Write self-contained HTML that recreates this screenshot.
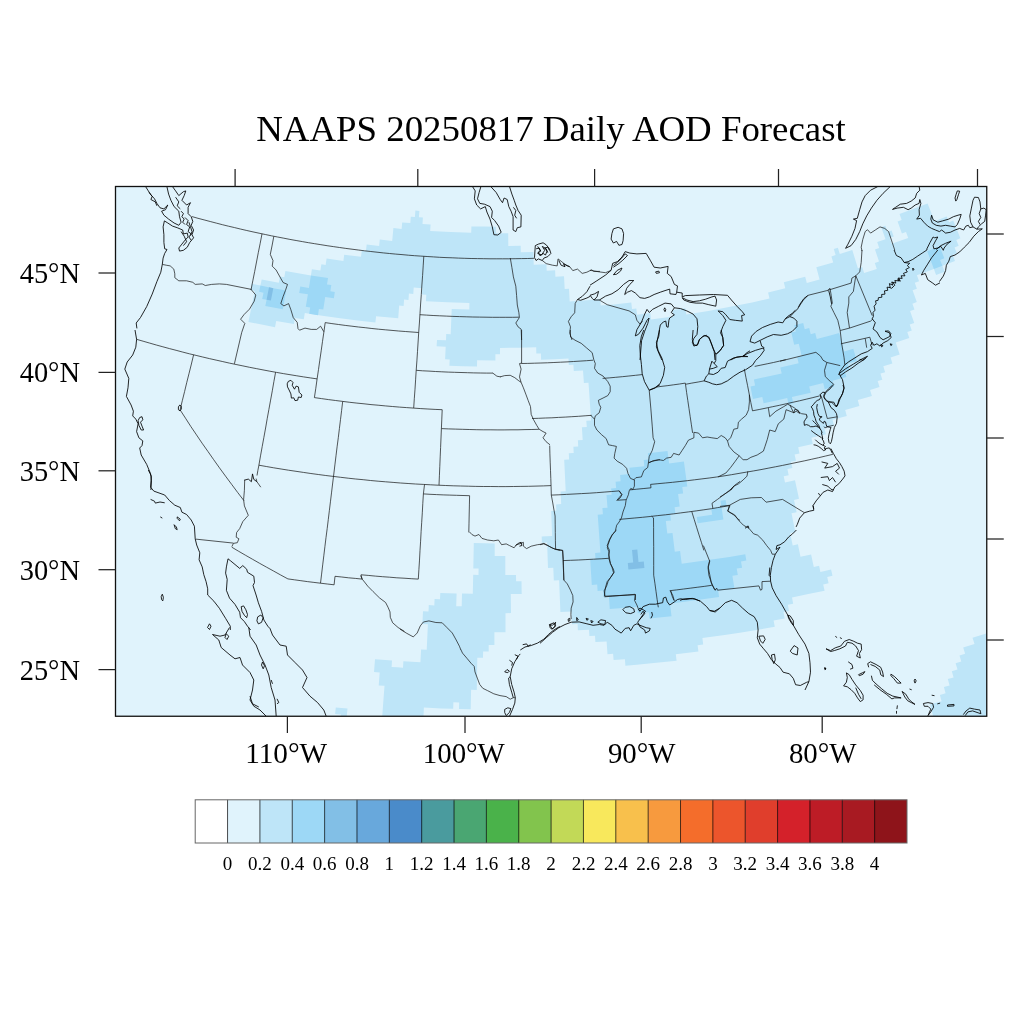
<!DOCTYPE html>
<html><head><meta charset="utf-8"><title>NAAPS 20250817 Daily AOD Forecast</title>
<style>html,body{margin:0;padding:0;background:#fff}svg{display:block}text{font-family:"Liberation Serif","Times New Roman",serif;fill:#000}</style></head><body>
<svg width="1024" height="1024" viewBox="0 0 1024 1024">
<rect width="1024" height="1024" fill="#fff"/>
<defs><clipPath id="mc"><rect x="115.50" y="186.50" width="871.25" height="529.75"/></clipPath></defs>
<g clip-path="url(#mc)">
<rect x="115.50" y="186.50" width="871.25" height="529.75" fill="#e0f3fc"/>
<path d="M343.4,261.0 326.6,258.6 325.6,264.9 321.4,264.2 320.4,270.5 311.9,269.2 310.9,275.5 298.2,273.3 285.4,271.0 284.3,277.3 280.0,276.5 278.8,282.7 261.7,279.4 260.4,285.6 251.8,283.8 250.5,290.0 254.8,290.9 248.4,321.9 261.7,324.6 275.0,327.2 276.2,320.9 293.9,324.1 294.9,317.9 303.8,319.3 304.8,313.1 322.4,315.8 340.1,318.3 357.7,320.5 375.4,322.5 376.1,316.2 398.2,318.2 399.2,305.6 403.6,305.9 404.1,299.6 408.5,300.0 408.9,293.6 413.3,293.9 413.7,287.6 422.3,288.2 421.9,294.5 426.3,294.8 425.9,301.2 447.6,302.3 469.4,303.1 469.3,309.4 451.7,308.9 450.7,334.2 446.2,334.0 446.0,340.3 437.0,339.9 436.6,346.2 445.7,346.7 445.1,359.3 449.7,359.5 449.4,365.8 463.2,366.3 477.0,366.6 477.1,360.3 495.4,360.5 495.4,354.2 500.0,354.2 500.0,347.9 518.1,347.7 536.2,347.3 536.3,353.6 540.9,353.5 541.1,359.8 554.8,359.3 568.5,358.6 568.8,364.9 573.4,364.7 573.8,371.0 583.0,370.4 583.9,383.0 588.5,382.7 591.1,420.4 586.3,420.7 586.8,427.0 581.9,427.3 582.7,439.9 577.9,440.2 578.2,446.5 573.4,446.8 573.7,453.0 568.8,453.3 569.1,459.6 564.2,459.8 565.7,491.3 560.6,491.5 561.2,504.1 556.1,504.4 556.3,510.7 551.2,510.9 552.1,536.1 541.7,536.4 541.9,542.8 547.1,542.6 548.0,567.9 553.3,567.7 553.8,580.4 559.1,580.2 560.4,611.9 571.4,611.5 572.0,624.2 577.6,623.9 577.9,630.3 589.0,629.7 589.4,636.1 595.0,635.7 595.4,642.1 606.6,641.4 607.5,654.2 613.1,653.7 613.6,660.1 624.9,659.3 625.4,665.7 636.8,664.7 653.9,663.1 676.6,660.7 675.8,654.3 698.4,651.6 697.6,645.2 703.2,644.5 702.4,638.1 724.7,635.0 741.4,632.4 758.1,629.7 774.8,626.7 773.6,620.4 784.7,618.4 783.5,612.1 789.0,611.0 787.8,604.8 793.2,603.7 792.0,597.4 808.3,594.1 824.6,590.7 823.2,584.4 828.6,583.2 827.2,577.0 832.5,575.8 831.1,569.6 820.4,572.0 819.1,565.8 813.8,566.9 811.1,554.5 800.5,556.8 797.9,544.3 792.7,545.4 790.1,533.0 795.3,531.9 791.5,513.3 796.6,512.3 794.0,499.9 799.0,498.8 795.0,480.3 785.0,482.4 783.7,476.2 788.7,475.2 787.4,469.0 792.4,468.0 791.0,461.8 796.0,460.7 794.6,454.6 799.5,453.5 798.2,447.3 812.8,444.0 811.4,437.8 825.9,434.3 824.4,428.2 834.0,425.8 832.5,419.7 846.8,416.0 845.2,409.9 859.4,406.0 857.8,399.9 871.9,395.9 870.1,389.9 879.5,387.1 877.7,381.1 882.3,379.7 880.5,373.6 885.1,372.2 883.3,366.2 892.4,363.4 890.6,357.4 899.7,354.5 895.8,342.5 909.3,338.0 907.3,332.1 911.8,330.6 909.7,324.6 914.2,323.1 910.1,311.1 914.5,309.6 912.4,303.7 916.8,302.1 912.6,290.2 916.9,288.7 914.8,282.7 919.1,281.2 916.9,275.3 933.9,269.0 936.1,274.9 944.6,271.7 942.4,265.8 955.0,260.9 952.7,255.0 956.9,253.3 954.5,247.4 958.7,245.8 956.3,239.9 960.4,238.2 953.2,220.6 949.1,222.3 946.7,216.4 934.6,221.2 927.6,203.4 915.6,208.1 899.5,214.1 901.7,220.0 897.6,221.5 901.9,233.5 906.0,232.0 908.2,238.0 891.7,243.8 889.6,237.8 893.7,236.4 891.6,230.4 887.5,231.8 885.4,225.8 881.3,227.2 885.5,239.3 877.2,242.1 879.2,248.1 875.0,249.5 879.0,261.5 874.8,262.9 876.8,268.9 864.1,273.0 862.2,267.0 857.9,268.3 852.3,250.1 839.8,253.9 837.9,247.8 833.8,249.0 835.6,255.1 831.4,256.4 833.2,262.5 816.3,267.2 819.6,279.5 806.8,282.9 805.2,276.8 783.8,282.2 785.3,288.3 768.1,292.4 769.5,298.6 752.1,302.4 730.2,306.8 708.3,310.9 686.3,314.5 685.4,308.2 672.2,310.2 673.1,316.5 651.0,319.4 650.3,313.1 637.1,314.7 636.3,308.4 632.0,308.9 631.3,302.6 613.8,304.4 600.7,305.6 600.2,299.2 587.1,300.3 569.7,301.4 569.0,288.7 564.7,289.0 564.0,276.2 555.4,276.7 555.1,270.3 546.7,270.7 546.4,264.3 533.7,264.7 533.4,251.9 520.8,252.2 520.7,245.8 508.3,246.0 508.2,233.2 495.9,233.2 495.9,226.7 483.6,226.6 471.4,226.4 471.2,232.8 450.7,232.1 430.2,231.0 430.6,224.6 422.5,224.1 422.9,217.6 418.9,217.3 419.4,210.9 415.4,210.6 414.9,217.0 410.8,216.7 410.3,223.1 402.2,222.4 401.6,228.9 393.4,228.1 392.2,240.9 379.8,239.6 379.1,246.0 366.7,244.6 365.9,251.0 361.8,250.5 361.0,256.8 344.2,254.7ZM341.0,714.5 340.3,721.0 346.2,721.6 347.5,708.6 335.8,707.5 335.1,713.9ZM384.5,685.8 382.1,718.1 405.6,719.6 423.3,720.6 423.9,707.6 441.5,708.4 453.2,708.7 453.4,702.3 459.2,702.4 459.0,708.9 470.7,709.2 471.1,689.8 476.8,689.9 477.3,657.7 483.0,657.8 483.1,651.4 488.7,651.5 488.7,645.0 494.4,645.1 494.4,632.3 505.5,632.3 505.5,613.2 511.0,613.1 510.8,594.0 521.7,593.9 521.5,581.2 516.1,581.3 516.0,574.9 505.3,575.0 505.3,556.0 494.7,556.0 494.7,543.4 473.8,543.1 473.3,568.5 478.6,568.5 478.5,574.9 473.2,574.8 472.8,593.8 462.0,593.6 461.7,606.3 456.2,606.2 456.6,593.4 440.3,592.9 440.0,599.2 434.6,599.0 434.3,605.4 428.8,605.1 428.5,611.5 423.0,611.2 422.4,623.9 427.9,624.2 426.7,649.7 421.1,649.5 420.4,662.3 403.4,661.3 403.0,667.7 397.3,667.3 391.6,667.0 392.0,660.6 375.0,659.3 374.0,672.1 379.7,672.5 378.7,685.4ZM965.1,653.7 959.5,655.4 961.3,661.6 955.6,663.3 957.5,669.5 951.8,671.2 953.6,677.4 947.8,679.1 949.6,685.4 943.9,687.0 945.6,693.3 939.9,694.9 941.6,701.2 930.0,704.4 933.4,717.1 939.3,715.5 941.0,721.8 964.5,715.2 966.4,721.5 984.0,716.3 985.9,722.6 991.8,720.8 986.0,701.9 991.9,700.1 986.0,681.3 991.8,679.5 985.9,660.9 991.6,659.1 985.7,640.5 991.3,638.7 989.3,632.5 972.5,637.8 974.5,644.0 963.2,647.5Z" fill="#bee5f8" fill-rule="evenodd"/>
<path d="M308.9,288.0 300.3,286.6 299.2,292.9 307.9,294.3 305.8,306.8 310.2,307.5 309.2,313.8 318.0,315.2 318.9,308.9 323.3,309.5 325.2,297.0 333.9,298.2 334.8,291.9 330.4,291.3 331.3,285.0 327.0,284.4 328.0,278.1 310.9,275.5ZM265.3,306.0 282.8,309.3 286.2,290.6 273.3,288.2 260.4,285.6 259.1,291.8 263.5,292.7 262.2,298.9 266.6,299.8ZM597.7,514.7 600.4,552.5 595.1,552.9 595.5,559.2 590.2,559.5 591.8,584.9 597.2,584.5 597.6,590.9 603.0,590.5 603.5,596.8 608.9,596.4 609.8,609.1 626.3,607.8 637.2,606.9 637.8,613.2 648.8,612.2 649.4,618.5 671.5,616.2 670.0,603.5 686.4,601.5 697.3,600.1 719.1,597.1 718.2,590.8 734.4,588.3 732.4,575.7 737.8,574.9 736.7,568.6 742.1,567.7 741.0,561.4 746.3,560.5 745.3,554.3 729.4,556.9 713.5,559.3 697.6,561.6 681.7,563.7 680.1,551.1 674.8,551.8 672.5,532.9 667.3,533.5 665.8,521.0 671.0,520.4 670.2,514.1 675.4,513.5 674.6,507.2 679.7,506.6 678.1,494.0 683.1,493.4 682.3,487.1 687.3,486.5 683.9,461.5 669.1,463.4 667.5,450.9 647.9,453.2 648.6,459.5 643.7,460.0 644.3,466.3 629.4,467.8 630.0,474.1 620.1,475.0 620.6,481.3 615.6,481.7 616.1,488.0 611.1,488.4 611.6,494.7 606.5,495.1 607.5,507.7 602.4,508.0 602.9,514.3ZM726.6,506.1 725.6,499.9 720.5,500.7 721.5,506.9ZM697.6,523.3 713.1,521.0 723.4,519.4 721.5,506.9 711.2,508.5 712.2,514.8 696.8,517.0ZM798.8,343.7 801.7,355.9 797.2,357.0 798.6,363.2 780.3,367.4 781.7,373.6 767.8,376.6 753.9,379.4 755.1,385.6 750.5,386.6 752.9,398.9 762.3,397.0 763.6,403.2 777.7,400.2 787.2,398.1 788.5,404.3 793.3,403.2 791.9,397.1 810.7,392.7 809.2,386.5 823.2,383.1 824.7,389.2 834.1,386.8 832.5,380.7 846.4,376.9 844.7,370.8 849.3,369.6 847.6,363.5 856.8,360.9 853.3,348.8 844.2,351.4 839.2,333.1 830.2,335.6 816.8,339.1 815.2,333.0 810.7,334.2 809.2,328.1 804.7,329.2 803.2,323.1 794.3,325.3 795.8,331.4 791.3,332.5 794.2,344.7ZM933.9,269.0 942.4,265.8 940.1,259.9 944.3,258.3 939.7,246.5 927.2,251.2Z" fill="#9dd8f6" fill-rule="evenodd"/>
<path d="M269.0,287.3 266.6,299.8 270.9,300.6 273.3,288.2ZM632.0,550.0 633.2,562.6 627.8,563.1 628.4,569.4 644.4,567.9 643.8,561.6 638.5,562.1 637.3,549.5Z" fill="#82bfe6" fill-rule="evenodd"/>
<g fill="none" stroke="#111" stroke-width="0.7" stroke-linejoin="round">
<path d="M192.0,216.6 198.0,218.3 204.1,219.9 210.2,221.5 216.3,223.1 222.4,224.7 228.5,226.2 234.6,227.6 240.7,229.1 246.8,230.5 253.0,231.9 259.1,233.2 265.3,234.5 271.4,235.8 277.6,237.0 283.8,238.2 289.9,239.4 296.1,240.5 302.3,241.6 308.5,242.7 314.7,243.7 320.9,244.7 327.1,245.7 333.3,246.6 339.6,247.5 345.8,248.4 352.0,249.2 358.3,250.0 364.5,250.8 370.8,251.5 377.0,252.2 383.3,252.9 389.5,253.5 395.8,254.1 402.0,254.6 408.3,255.2 414.6,255.7 420.8,256.1 427.1,256.5 433.4,256.9 439.7,257.3 446.0,257.6 452.2,257.8 458.5,258.1 464.8,258.3 471.1,258.5 477.4,258.6 483.7,258.7 490.0,258.8 496.2,258.8 502.5,258.8 508.8,258.8 515.1,258.7 521.4,258.6 527.7,258.5 534.0,258.3"/>
<path d="M262.0,233.8 260.2,243.3 258.3,252.6 256.5,262.0 254.7,271.4 252.8,280.8 251.0,290.1"/>
<path d="M136.5,339.3 143.1,341.2 149.7,343.1 156.3,345.0 162.9,346.8 169.5,348.6 176.1,350.3 182.8,352.1 189.4,353.8 196.1,355.4 202.7,357.0 209.4,358.6 216.1,360.1 222.8,361.6 229.4,363.1 236.1,364.5 242.9,365.9 249.6,367.3 256.3,368.6 263.0,369.9 269.8,371.2 276.5,372.4 283.3,373.6 290.0,374.7 296.8,375.8 303.6,376.9 310.3,377.9 317.1,378.9"/>
<path d="M193.6,354.8 191.4,364.0 189.1,373.2 186.8,382.3 184.6,391.5 182.3,400.7 180.1,409.9 185.5,418.2 190.9,426.6 196.5,434.9 202.1,443.2 207.9,451.4 213.7,459.7 219.5,467.9 225.5,476.1 231.6,484.3 237.7,492.5 243.9,500.6"/>
<path d="M275.6,372.2 273.9,381.5 272.3,390.8 270.6,400.1 268.9,409.4 267.2,418.7 265.6,428.0 263.9,437.3 262.2,446.6 260.5,455.9 258.9,465.2 257.9,470.3 257.0,475.5"/>
<path d="M258.9,465.2 266.3,466.5 273.7,467.8 281.1,469.0 288.5,470.2 296.0,471.3 303.4,472.4 310.9,473.5 318.3,474.5 325.8,475.5 333.2,476.4 340.7,477.3 348.2,478.2 355.7,479.0 363.2,479.7 370.6,480.5 378.1,481.2 385.6,481.8 393.1,482.4 400.6,483.0 408.1,483.5 415.6,484.0 423.2,484.4 430.7,484.8 438.2,485.2 445.7,485.5 453.2,485.8 460.7,486.0 468.3,486.2 475.8,486.4 483.3,486.5 490.8,486.5 498.3,486.6 505.9,486.6 513.4,486.5 520.9,486.4 528.4,486.3 536.0,486.1 543.5,485.9 551.0,485.6"/>
<path d="M325.2,322.6 323.9,332.0 322.5,341.4 321.2,350.8 319.8,360.2 318.5,369.5 317.1,378.9 315.8,388.3 314.4,397.6 321.5,398.6 328.5,399.6 335.6,400.5 342.7,401.4 349.8,402.3 356.9,403.1 364.0,403.8 371.0,404.6 378.1,405.2 385.3,405.9 392.4,406.5 399.5,407.1 406.6,407.6 413.7,408.1 420.8,408.6 427.9,409.0 435.1,409.4 442.2,409.7 441.8,419.1 441.4,428.6 441.0,438.0 440.6,447.5 440.2,456.9 439.8,466.3 439.4,475.8 439.0,485.2"/>
<path d="M342.7,401.4 341.6,410.5 340.5,419.5 339.4,428.6 338.3,437.7 337.1,446.8 336.0,455.8 334.9,464.9 333.8,474.0 332.7,483.0 331.6,492.1 330.5,501.2 329.4,510.3 328.3,519.4 327.2,528.5 326.0,537.6 324.9,546.7 323.8,555.8 322.7,564.9 321.6,574.1 320.5,583.2"/>
<path d="M325.2,322.6 331.9,323.6 338.6,324.5 345.2,325.4 351.9,326.2 358.5,327.0 365.2,327.7 371.9,328.5 378.6,329.2 385.3,329.8 392.0,330.4 398.7,331.0 405.3,331.5 412.0,332.0 418.7,332.5"/>
<path d="M423.8,256.3 423.2,265.9 422.6,275.4 421.9,285.0 421.3,294.5 420.6,304.0 420.0,313.5 419.4,323.0 418.7,332.5 418.1,342.0 417.5,351.4 416.9,360.9 416.2,370.3 415.6,379.8 415.0,389.2 414.3,398.7 413.7,408.1"/>
<path d="M419.9,314.7 426.5,315.1 433.1,315.5 439.7,315.8 446.3,316.1 452.9,316.4 459.5,316.6 466.2,316.8 472.8,317.0 479.4,317.1 486.0,317.2 492.6,317.3 499.2,317.3 505.8,317.3 512.4,317.3 519.0,317.2"/>
<path d="M416.2,370.3 422.6,370.8 429.0,371.1 435.4,371.5 441.8,371.8 448.2,372.1 454.6,372.3 461.0,372.5 467.4,372.7 473.8,372.9 480.2,373.0 486.6,373.1 493.0,373.1"/>
<path d="M441.4,428.6 448.3,428.9 455.3,429.1 462.3,429.3 469.2,429.5 476.2,429.7 483.2,429.8 490.1,429.8 497.1,429.9 504.1,429.9 511.0,429.8 518.0,429.8 525.0,429.6 531.9,429.5 538.9,429.3"/>
<path d="M549.7,445.6 549.9,453.8 550.2,462.1 550.5,470.3 550.8,478.6 551.1,486.8 551.3,495.1"/>
<path d="M424.5,484.5 423.4,493.9 430.0,494.3 436.6,494.6 443.2,494.9 449.8,495.1 456.4,495.3 463.0,495.5 469.6,495.7 469.4,504.9 469.2,514.0 469.0,523.2 468.8,532.4"/>
<path d="M423.4,493.9 422.8,503.4 422.3,512.8 421.7,522.3 421.1,531.7 420.6,541.2 420.0,550.6 419.5,560.1 418.9,569.6 418.3,579.1 411.2,578.7 404.0,578.2 396.8,577.8 389.6,577.2 382.5,576.7 375.3,576.1 368.2,575.4 361.0,574.8 362.1,579.1 355.3,578.4 348.5,577.8 341.8,577.0 335.0,576.3 334.1,584.8 327.3,584.0 320.5,583.2 313.9,582.4 307.4,581.6 300.9,580.7 294.4,579.8 287.9,578.9 280.7,575.0 273.7,571.1 266.6,567.2 259.6,563.3 252.6,559.3 245.6,555.3 238.7,551.3 231.8,547.2"/>
<path d="M551.3,495.1 552.6,502.0 553.8,509.0 555.1,516.0 555.2,524.2 555.3,532.5 555.4,540.8 555.6,549.1 562.6,550.6 562.9,558.0 563.2,565.4 563.6,572.8 563.9,580.2"/>
<path d="M551.3,495.1 558.9,494.8 566.4,494.4 574.0,494.0 581.5,493.6 589.1,493.2 596.6,492.7 604.1,492.1 611.7,491.5 619.2,490.9 621.8,494.5 616.6,500.6"/>
<path d="M563.0,560.6 570.6,560.3 578.3,560.0 585.9,559.6 593.5,559.2 601.1,558.8 608.7,558.3"/>
<path d="M521.3,363.5 527.8,363.4 534.3,363.2 540.9,363.0 547.4,362.8 553.9,362.5 560.5,362.2 567.0,361.9 573.5,361.5 580.1,361.1 586.6,360.7 593.1,360.2"/>
<path d="M532.0,418.5 538.6,418.3 545.3,418.0 551.9,417.8 558.6,417.4 565.2,417.1 571.8,416.7 578.5,416.3 585.1,415.8 591.7,415.3"/>
<path d="M602.6,378.4 609.2,377.9 615.7,377.3 622.3,376.7 628.9,376.0 635.5,375.3 642.0,374.6"/>
<path d="M685.5,384.3 686.6,392.4 687.8,400.5 689.0,408.6 690.2,416.7 691.4,424.8 692.6,432.9"/>
<path d="M656.2,387.1 662.0,386.3 667.9,385.6 673.7,384.8 679.5,384.0 685.3,383.1 685.5,384.3 691.8,383.1 698.2,382.0 704.5,380.8"/>
<path d="M744.3,368.9 745.9,377.3 747.6,385.7 749.2,394.0 750.8,402.4 752.5,410.8 759.2,409.5 766.0,408.1 772.7,406.7 779.4,405.3 786.1,403.8 792.8,402.3 799.5,400.8 806.2,399.2 812.9,397.6 819.6,395.9"/>
<path d="M754.7,366.4 760.9,365.1 767.2,363.8 773.4,362.5 779.6,361.1 785.8,359.7"/>
<path d="M629.8,489.9 636.8,489.2 643.9,488.5 651.0,487.8 650.6,484.4 657.9,483.7 665.3,483.0 672.6,482.3 679.9,481.5 687.2,480.7 694.6,479.8 701.9,478.9 709.2,478.0 716.5,477.0 724.0,475.9 731.5,474.7 739.0,473.4 746.5,472.1 753.7,470.9 761.0,469.6 768.2,468.2 775.4,466.8 782.6,465.4 789.8,463.9 797.0,462.4 804.2,460.9 811.4,459.3 818.6,457.7 825.7,456.0 832.9,454.3"/>
<path d="M619.3,519.4 627.0,518.7 634.7,518.0 642.4,517.3 650.1,516.5 657.8,515.6 665.5,514.8 673.2,513.9 680.8,512.9 688.5,511.9 696.2,510.9 703.8,509.8 711.5,508.7 717.7,507.6 723.9,506.6 730.1,505.5"/>
<path d="M651.7,516.2 653.5,517.9 653.6,527.5 653.6,537.0 653.7,546.5 653.7,556.1 653.7,565.6 653.7,575.2 654.9,583.2 656.0,591.3 657.1,599.3 658.3,607.3"/>
<path d="M691.8,511.7 694.2,519.4 696.6,527.2 699.0,534.9 701.5,542.7 703.9,550.4"/>
<path d="M669.7,590.7 676.7,589.9 683.7,589.0 690.8,588.1 697.8,587.2 704.8,586.3 711.8,585.3"/>
<path d="M604.5,596.8 612.2,596.2 619.8,595.6 627.4,595.0 635.0,594.3"/>
<path d="M162.3,264.4 166.2,265.2 170.2,265.9 173.8,269.1 174.8,273.8 174.8,277.7 178.8,280.8 186.6,280.8 192.8,282.3 195.2,284.4 202.2,283.9 205.3,285.5 211.6,284.4 219.4,283.9 226.4,284.4 251.4,289.4"/>
<path d="M251.1,289.5 255.8,295.0 254.2,301.2 249.5,309.1 244.1,314.5 240.6,319.2 244.8,323.4 241.7,332.5 234.4,363.8"/>
<path d="M273.8,236.4 272.2,245.0 270.3,254.4 273.0,260.6 272.2,266.1 276.1,270.0 280.0,277.0 283.1,282.5 287.5,284.4 285.5,290.3 283.1,296.6 280.8,303.6 283.9,305.9 288.6,303.6 290.9,309.8 293.3,317.7 297.2,322.3 298.0,328.6 299.5,330.2 305.0,328.1 311.2,329.4 316.7,329.4 320.6,326.2 323.8,331.7"/>
<path d="M256.1,478.6 256.9,481.7 260.8,487.2"/>
<path d="M244.7,479.7 244.4,490.3 243.6,499.7 244.4,505.9 248.3,515.3 242.8,521.6 239.7,528.6 236.6,532.5 236.2,537.2 238.9,538.8 237.3,542.7 233.4,543.4 231.9,546.6"/>
<path d="M195.6,539.1 233.4,543.1"/>
<path d="M510.3,258.1 511.9,267.5 513.4,276.9 515.8,286.2 516.6,295.6 517.3,305.0 518.9,312.8 519.4,317.5 515.8,323.0 518.1,326.9 521.2,329.2 521.6,340.0"/>
<path d="M542.3,260.5 546.2,263.6 552.5,265.2 557.2,265.9 558.0,258.9 561.1,261.2 565.0,264.4 569.7,266.7 572.8,270.6 577.5,269.1 582.2,273.4 586.9,272.2 591.6,269.8 593.9,271.4 600.0,271.4"/>
<path d="M577.5,299.5 575.2,303.4 574.7,312.8 571.2,316.7 568.4,321.4 570.5,326.9 569.7,333.1 572.0,340.0"/>
<path d="M599.4,300.0 607.2,304.7 618.1,307.8 629.1,310.9 635.3,314.8 636.9,320.3 640.0,324.2 642.3,321.1"/>
<path d="M590.0,270.3 594.7,271.1 599.4,271.9 605.6,272.7 611.1,270.3"/>
<path d="M521.6,330.0 521.6,363.1 519.5,363.6 521.1,369.1 519.5,376.9 521.1,382.3"/>
<path d="M500.0,376.9 504.7,375.6 510.2,375.3 514.8,377.7 518.8,380.8 521.1,382.3 523.4,387.8 525.8,394.1 528.1,400.3 530.5,406.6 531.2,414.4 533.6,419.8 536.7,425.3 539.1,429.2 543.0,431.6 546.1,433.1 543.0,437.8 546.1,441.7 550.0,444.8"/>
<path d="M570.3,330.0 570.6,337.0 575.0,340.2 581.2,343.3 586.7,348.0 592.2,352.7 593.8,359.7 595.3,363.6 594.5,368.3 597.7,373.0 603.1,376.1 607.8,381.6 610.2,386.2 610.2,391.7 607.8,395.6 603.1,398.0 598.4,400.3 599.2,404.2 600.8,407.3 599.2,412.8 595.3,415.9 594.5,419.1 594.5,425.3 596.9,430.0 601.6,434.7 606.2,438.6 608.6,444.8 612.5,445.6 616.4,446.4 614.8,453.4 614.1,458.1 617.2,461.2 622.7,464.4 626.6,468.3 628.1,473.8 630.5,478.4 634.4,480.0 634.4,486.2 632.8,489.4"/>
<path d="M590.6,415.2 594.5,419.1"/>
<path d="M649.2,390.2 650.8,408.1 652.3,426.9 653.1,437.8 654.7,441.7 652.3,450.3 649.2,456.6 648.4,462.8 647.7,467.5 643.8,470.6 641.4,476.9 635.9,477.7 633.6,480.0"/>
<path d="M648.4,462.8 652.3,461.2 660.0,459.7"/>
<path d="M749.4,394.8 749.4,401.9 748.6,409.7 746.2,415.2 741.6,419.1 738.4,422.2 737.7,428.4 733.8,429.2 732.2,433.9 730.6,437.8 727.5,440.9 725.2,437.8 721.2,435.5 717.3,438.6 711.9,437.8 707.2,437.0 702.5,437.8 698.6,433.1 693.9,432.3 693.9,437.8 688.4,440.2 685.3,445.6 682.2,450.3 679.1,455.0 673.6,453.4 671.2,457.3 666.6,458.1 663.4,460.5 658.8,459.7 654.1,460.5 648.6,462.8"/>
<path d="M727.5,440.9 729.1,446.4 733.8,451.9 739.2,455.8 743.1,459.7 747.0,459.7 750.9,457.3 757.2,455.0 763.4,451.1 765.0,446.4 767.3,439.4 769.7,430.0 775.2,431.6 778.3,423.8 783.8,419.1 786.1,409.7 790.0,411.2 793.9,412.8 796.2,411.2 800.0,413.6"/>
<path d="M768.4,408.1 769.7,416.7 775.9,411.2 783.8,406.6 787.7,404.2 792.3,406.6 794.7,408.1 800.0,412.8"/>
<path d="M739.2,455.8 735.3,461.2 730.6,467.5 725.9,473.0 718.1,476.9"/>
<path d="M747.8,471.4 747.0,476.1 743.1,480.0 738.4,483.9 733.8,486.2 730.6,490.0"/>
<path d="M798.8,307.0 803.4,300.0 808.1,295.3 826.9,290.6 851.1,283.1"/>
<path d="M827.7,290.6 830.0,288.3 831.2,295.3 832.3,303.1 830.8,306.2 833.9,312.5 837.8,320.3 840.2,330.5 841.7,343.8 844.1,357.8 844.8,364.8"/>
<path d="M851.1,283.1 851.9,278.1 855.8,275.8 854.2,285.9 853.4,291.4 848.8,296.9 848.8,303.1 847.2,312.5 849.5,328.1"/>
<path d="M862.0,250.0 861.2,262.5 859.7,271.9 855.8,275.8 872.2,315.6"/>
<path d="M840.2,330.5 849.5,328.1 870.6,321.1 873.0,318.8"/>
<path d="M840.9,343.8 865.2,338.3 869.8,337.2 872.2,345.3"/>
<path d="M865.2,338.3 866.7,347.7"/>
<path d="M780.0,361.2 815.9,352.3 820.6,356.2 823.0,360.2 826.9,362.5 840.2,365.6"/>
<path d="M826.9,362.5 824.5,370.3 825.3,376.6 830.0,381.2 833.9,384.4 830.0,389.1 826.1,392.2 823.8,396.9 826.9,400.8 831.6,402.3 835.5,406.2 837.8,404.7"/>
<path d="M894.8,250.3 891.7,240.9 888.6,231.6 884.7,228.4 880.0,226.9 875.3,230.0 870.6,233.1 867.5,229.7 865.2,231.6 862.8,239.4 861.2,247.2 862.0,251.1"/>
<path d="M734.1,486.1 730.9,490.0 726.2,493.1 720.0,497.0"/>
<path d="M720.0,506.4 729.4,505.3 740.3,499.4 751.2,497.8 761.4,497.5 766.1,502.2 782.5,499.4 804.4,512.7"/>
<path d="M729.4,505.3 727.8,511.1 734.8,515.0 738.8,520.5 743.4,525.2 748.9,528.3 753.6,533.8"/>
<path d="M703.4,545.6 709.7,561.2 708.1,568.3 708.9,575.3 712.0,584.7 715.2,590.2 716.7,588.1 717.5,590.2 758.9,585.9 760.5,590.2 762.0,589.4 762.0,581.6 770.6,581.2"/>
<path d="M753.6,533.8 757.7,535.2 762.8,540.2 766.7,545.6 770.6,550.3 772.2,554.2 775.3,554.2"/>
<path d="M540.0,544.8 543.9,543.3 549.4,546.4 555.6,549.5 562.7,550.3 563.4,559.7 563.8,580.0 567.3,583.9 570.5,590.2 572.8,595.6 573.1,601.9 571.2,608.1 570.9,614.4 571.2,619.1"/>
<path d="M616.6,530.0 612.7,533.9 609.5,539.4 607.2,545.6 609.5,550.3 608.8,555.0 609.5,558.1 610.3,563.6 613.4,569.1 614.2,572.2 611.1,576.9 607.2,581.6 605.6,587.0 604.8,591.7 604.4,596.4"/>
<path d="M635.3,594.1 634.5,600.3 636.9,605.0 638.4,608.9 640.0,611.2"/>
<path d="M670.5,590.9 672.8,595.6 674.4,601.1"/>
<path d="M469.5,531.9 471.9,534.5 475.0,536.1 478.9,534.5 482.0,538.4 487.5,540.0 493.8,540.8 498.4,540.0 501.6,544.7 506.2,543.9 509.4,545.5 514.1,547.8 516.4,544.7 519.5,543.9 523.4,542.3 523.4,546.2 526.6,548.6 531.2,546.2 537.5,544.7 543.8,543.9 547.7,545.5 552.3,548.1 556.2,549.4 560.0,550.2"/>
<path d="M400.0,629.1 406.2,633.0 413.3,636.9 417.2,633.0 420.3,625.9 423.4,622.0 428.9,620.9 435.9,622.5 442.2,622.8 446.9,627.5 452.3,633.0 456.2,640.0 459.4,646.2 460.9,650.0"/>
<path d="M460.9,649.7 462.5,653.1 467.2,658.6 471.1,663.3 474.2,666.4 475.0,671.9 477.3,678.1 479.7,684.4 482.8,688.3 487.5,690.6 493.8,693.8 500.0,695.6 506.2,696.6 510.2,699.2 513.3,697.7 515.3,697.7"/>
<path d="M360.6,575.6 362.2,579.1 365.3,583.0 367.7,586.1 373.1,591.6 379.4,597.8 385.6,602.5 388.0,607.2 390.0,611.9 390.3,617.3 392.7,622.8 398.1,627.5 404.4,631.4"/>
<path d="M632.8,489.4 630.8,488.4 629.2,490.8 628.4,494.7 626.1,500.2 625.3,505.6 623.0,511.9 621.4,518.1 619.1,522.0 616.7,525.2 615.2,531.4 612.0,535.3 609.7,540.0 608.1,544.7 607.3,547.8 608.9,551.7 608.9,558.8 610.5,563.4 612.0,567.3 613.6,572.8 610.5,577.5 608.1,581.4 606.6,586.1 604.2,590.8 605.0,596.2 635.5,594.7 635.5,600.0"/>
<path d="M619.1,490.8 621.9,494.7 620.3,497.8 617.5,500.2 626.1,499.7"/>
<path d="M709.7,560.3 708.1,566.6 709.7,574.4 711.2,582.2 714.4,589.2 715.9,590.0"/>
<path d="M740.0,481.4 734.7,485.3 730.0,490.0 723.8,494.7 717.5,499.4 712.0,503.3 712.8,508.0"/>
<path d="M730.0,505.6 727.7,511.1 733.9,515.0 737.8,518.9 740.0,520.5"/>
<path d="M670.6,590.8 672.2,596.2 673.8,600.0"/>
<path d="M492.8,373.1 496.9,376.2 500.6,376.9"/>
<path d="M820.1,394.6 821.4,396.6 827.3,418.5 837.2,416.8"/>
<path d="M826.9,426.7 830.3,426.0 833.7,425.3"/>
<path d="M790.0,404.8 791.4,408.2 793.8,413.0 794.8,409.3 798.2,410.3 798.9,412.3 801.6,413.7 806.4,414.4"/>
</g>
<g fill="none" stroke="#000" stroke-width="0.85" stroke-linejoin="round">
<path d="M145.6,186.6 148.3,190.9 150.9,194.8 154.5,198.8 156.9,203.4 160.0,207.8 163.9,208.9 167.8,205.0 165.5,209.7 161.6,211.2 163.9,215.2 168.6,219.1 174.1,223.0 178.8,225.3 181.1,222.2 179.5,216.7 178.8,211.2 174.1,206.6 170.9,200.3 168.6,194.1 167.0,187.0"/>
<path d="M172.5,186.6 175.6,190.9 178.8,195.6 183.4,191.7 185.8,190.9 184.2,195.6 181.9,200.3 186.6,205.0 190.5,202.7 188.1,207.3 188.1,213.6 191.2,216.7 192.8,221.4 191.2,225.3 193.6,230.0 192.0,234.7 193.6,237.8 189.7,242.5 187.3,247.2 183.4,250.3 179.5,251.1 178.8,248.0 181.9,244.1 185.0,240.2 188.1,237.0 187.3,233.1 183.4,233.9 182.7,230.0 177.2,227.7 172.5,226.1 167.8,223.0 164.4,220.9 163.1,226.9 163.9,234.7 163.9,242.5 164.7,248.8 167.0,249.5 164.7,253.4 163.1,258.1 162.3,264.4 160.8,272.2 156.9,281.6 152.2,294.1 146.7,306.6 140.5,317.5 136.2,323.0 136.9,328.4"/>
<path d="M135.0,330.0 136.6,339.4 135.8,347.2 132.7,355.0 127.2,362.0 124.8,369.1 128.8,378.4 128.0,387.8 126.4,396.4 131.1,405.0 133.4,411.2 132.7,415.9 135.8,419.1 138.1,423.8 136.6,431.6 138.9,437.8 142.8,440.9 142.0,445.6 139.7,448.0 141.2,455.0 146.7,464.4 150.6,473.8 151.4,480.8 150.9,490.0"/>
<path d="M138.1,420.6 139.7,417.5 142.0,416.7 142.8,419.8 140.5,422.2 142.0,426.1 143.6,430.0 141.2,430.0 138.9,425.3 138.1,420.6"/>
<path d="M179.8,405.0 181.2,406.2 181.4,408.9 180.0,410.9 178.4,409.7 178.4,406.9 179.8,405.0"/>
<path d="M148.3,470.0 151.4,476.2 150.6,487.2 153.8,491.1 164.7,495.0 169.4,500.5 174.8,505.2 180.3,507.5 181.9,512.2 186.6,514.5 191.2,520.0 194.4,526.2 195.2,538.8 196.7,545.0 199.8,552.8 199.1,559.8 202.2,566.9 203.8,574.7 206.1,581.7 207.7,588.8 207.7,595.0 213.9,601.2 219.4,608.3 225.6,618.4 230.3,626.2 230.3,630.0"/>
<path d="M150.6,499.4 154.5,501.2 155.3,503.1 160.0,502.0 164.7,502.8"/>
<path d="M177.2,516.9 180.3,519.2 179.5,520.8 177.2,518.4 177.2,516.9"/>
<path d="M174.1,524.7 176.4,527.0 177.2,529.7 175.3,528.6 174.1,524.7"/>
<path d="M160.3,516.9 162.3,518.1"/>
<path d="M244.4,480.2 248.3,479.1 251.4,481.7 252.5,473.9 253.8,479.4 256.9,481.7"/>
<path d="M250.6,630.0 247.5,626.2 244.4,621.6 240.5,617.7 239.7,612.2 235.0,604.4 229.5,598.1 226.4,590.3 227.2,579.4 225.6,573.1 226.4,566.9 228.0,558.8 230.3,560.6 235.0,564.5 239.7,568.4 242.8,565.6 246.7,569.2 247.5,572.3 253.8,576.2 254.5,582.5 253.0,585.6 256.1,595.0 258.4,602.8 261.6,611.4 263.9,620.0 267.8,626.2 270.0,628.6"/>
<path d="M241.2,606.7 243.6,605.9 245.9,609.8 247.5,614.5 246.7,617.7 244.4,615.3 242.0,611.4 241.2,606.7"/>
<path d="M257.7,616.9 260.8,615.0 263.1,617.7 261.6,622.3 258.4,623.9 256.9,620.8 257.7,616.9"/>
<path d="M162.3,594.2 163.4,597.3 162.8,600.9 161.6,599.7 161.2,596.6 162.3,594.2"/>
<path d="M229.5,627.5 225.0,635.0 220.0,636.2 212.5,634.5 218.8,640.0 221.2,647.5 230.0,655.0 235.0,658.8 240.0,657.5 242.5,665.0 250.0,672.5 253.8,680.0 252.5,690.0 250.0,700.0 253.8,706.2 260.0,710.0 266.2,716.2"/>
<path d="M248.8,627.5 250.0,636.2 256.2,645.0 260.0,655.0 265.0,665.0 268.8,675.0 271.2,687.5 275.0,700.0 276.2,716.2"/>
<path d="M270.0,628.5 272.5,635.0 280.0,645.0 286.2,646.2 287.5,655.0 295.0,662.5 302.5,670.0 307.0,677.5 302.5,687.5 310.0,696.2 317.5,702.5 323.8,710.0 326.2,716.2"/>
<path d="M209.5,623.8 211.0,626.2 209.5,629.5 207.5,627.5 209.5,623.8"/>
<path d="M226.2,633.8 228.8,636.2 227.0,639.5 225.0,637.5 226.2,633.8"/>
<path d="M262.5,662.0 264.5,665.8 263.2,668.8 261.5,665.0 262.5,662.0"/>
<path d="M271.2,680.0 272.5,683.8"/>
<path d="M277.0,698.8 278.8,702.5 277.0,703.8"/>
<path d="M250.0,696.2 252.5,703.8 258.8,707.0"/>
<path d="M288.3,381.4 290.9,380.3 293.0,382.5 292.2,385.3 294.5,389.2 296.1,386.1 298.4,386.9 299.2,392.3 301.9,395.0 301.2,397.5 298.4,397.0 297.7,400.2 295.0,400.6 293.8,397.8 291.4,398.1 290.9,393.9 289.1,390.0 287.5,386.9 287.2,383.8 288.3,381.4"/>
<path d="M472.5,186.6 475.2,190.9 474.4,198.8 476.7,205.0 480.6,208.9 485.3,206.6 486.9,212.0 490.0,219.1 492.3,226.9 493.9,234.7 497.8,235.0 501.2,232.3 498.6,226.1 494.7,220.6 491.6,217.5 492.3,211.2 490.0,206.6 484.5,204.2 479.8,203.4 477.5,198.8 479.1,192.5 480.9,186.6"/>
<path d="M490.8,186.6 496.2,192.5 500.2,199.5 502.5,202.7 504.1,198.0 507.2,199.5 508.8,206.6 511.1,211.2 513.1,216.7 513.1,230.0 515.8,231.6 517.3,227.7 520.9,226.9 521.2,215.2 518.1,210.5 515.8,205.0 514.2,200.3 511.9,194.1 509.5,186.6"/>
<path d="M513.4,207.3 515.8,210.5 514.7,215.2 516.6,218.3"/>
<path d="M534.5,257.7 535.3,245.6 538.4,244.1 543.1,242.8 546.2,244.8 549.4,248.8 550.9,253.4 547.8,256.6 543.9,258.1 542.3,260.5 538.4,258.9 536.1,260.5 534.5,257.7"/>
<path d="M537.7,246.4 540.0,250.3 537.7,253.4 541.6,255.0 544.7,250.3 542.3,246.4 546.2,248.8 547.8,252.7"/>
<path d="M558.8,260.5 561.1,265.2 565.0,266.7 563.4,263.6 567.3,265.9 569.7,266.7"/>
<path d="M613.4,228.9 618.1,227.3 622.0,228.9 623.6,233.6 623.1,240.6 622.0,244.5 618.9,245.3 616.6,241.4 613.4,243.0 611.1,239.1 611.9,233.6 613.4,228.9"/>
<path d="M590.0,285.2 596.2,281.2 605.6,275.0 611.1,270.3 612.7,263.3 617.3,261.7 622.0,257.0 625.2,251.6 629.8,253.1 636.9,253.9 646.2,253.4 650.2,260.2 654.1,267.2 660.3,268.0 668.1,266.4 667.3,273.4 671.2,276.6 674.4,284.4 677.5,285.9 676.7,292.2 682.2,293.0 682.2,296.9 685.3,295.6 699.4,295.0 713.4,294.5 727.5,295.3 731.4,300.0 736.9,306.2 742.3,311.7 744.7,314.8 741.6,315.6 742.3,321.1 735.3,320.3 729.8,319.5 725.9,314.8 722.8,311.7 718.1,310.9 722.8,315.6 725.9,320.3 722.8,326.6 720.5,332.8 722.8,337.5 723.6,345.3 720.5,350.0 716.6,353.9"/>
<path d="M613.4,265.6 617.3,262.5 621.2,258.6 625.2,253.9 627.5,255.5 622.8,260.2 618.1,264.1 613.4,267.2"/>
<path d="M682.2,297.7 686.9,300.0 693.1,301.6 699.4,300.8 705.6,299.2 711.9,296.9 715.0,296.1 716.6,300.0 715.8,306.2 708.8,304.7 702.5,303.1 696.2,303.1 690.0,302.3 683.8,300.0 682.2,297.7"/>
<path d="M715.0,360.0 714.2,351.6 711.9,345.3 709.5,339.1 706.4,335.2 702.5,336.7 699.4,339.8 697.8,344.5 693.9,346.1 692.3,342.2 693.9,338.3 697.0,334.4 697.8,326.6 697.0,318.8 693.1,314.1 686.9,310.9 680.6,308.6 674.4,307.8 671.2,312.5 674.4,314.8 669.7,318.0 668.9,320.3 668.1,327.3 666.6,326.6 665.8,321.1 663.4,321.9 660.3,325.0 658.8,332.8 657.2,340.6 656.4,346.9 658.8,353.1 661.9,360.0"/>
<path d="M590.0,295.3 594.7,293.8 598.6,291.4 597.0,296.9 593.9,300.0 592.3,298.4 590.0,295.3"/>
<path d="M593.9,300.0 599.4,300.0 605.6,296.1 611.9,293.8 618.1,289.8 623.6,284.4 629.1,280.5 633.8,280.5 629.8,284.4 626.7,288.3 624.7,294.5 627.5,292.2 631.4,290.6 635.3,293.0 640.0,297.7 644.7,298.4 649.4,296.9 654.1,294.5 660.3,292.2 665.0,290.6 669.7,289.1 670.0,293.8 675.9,294.5 676.7,292.2"/>
<path d="M613.4,274.7 617.3,270.3 622.0,268.0 620.5,271.1 616.6,274.2 613.4,274.7"/>
<path d="M655.6,271.9 658.8,271.1 659.5,272.7 656.4,273.4 655.6,271.9"/>
<path d="M674.4,307.8 671.2,303.9 665.0,303.1 658.8,306.2 652.5,309.4 649.4,312.5 647.0,309.4 644.7,314.1 641.6,321.9 636.9,329.7 635.3,335.9 638.4,334.4 643.1,328.1 647.0,320.3 649.1,318.0 647.8,323.4 644.7,331.2 641.6,340.6 640.8,350.0 640.0,360.0"/>
<path d="M664.7,307.8 665.8,309.7 665.0,311.7 663.9,309.7 664.7,307.8"/>
<path d="M730.6,360.0 736.9,357.0 743.9,356.2 746.2,353.1 750.0,350.8"/>
<path d="M590.0,286.2 586.9,291.7 582.2,296.4 577.5,299.5 580.6,300.3 586.9,298.0 590.0,296.4"/>
<path d="M643.8,330.0 641.4,336.2 639.8,345.6 640.3,355.0 641.4,364.4 642.2,373.8 644.5,381.6 649.2,390.2 654.7,387.8 660.0,384.7"/>
<path d="M649.4,390.2 655.6,387.8 660.3,383.1 663.4,375.3 664.7,367.5 661.9,358.1 658.0,350.3 656.4,342.5 658.8,336.2 659.5,330.0"/>
<path d="M704.1,380.8 706.4,376.1 708.8,373.8 713.4,374.5 718.1,372.2 721.2,368.3 725.2,367.5 727.5,361.2 733.8,357.8 741.6,356.6 747.8,356.6 743.1,355.8 747.8,353.4 755.6,350.3 763.4,348.0 764.2,350.3 760.3,355.8 755.6,360.5 752.5,365.2 745.5,369.8 740.0,372.2 733.8,376.1 727.5,380.8 721.2,383.9 716.6,384.7 712.7,383.9 708.8,382.3 704.1,380.8"/>
<path d="M708.8,373.8 709.5,369.1 711.9,361.2 714.2,363.6 717.3,366.7 713.4,368.3 709.5,369.1"/>
<path d="M693.1,330.0 692.3,339.4 693.9,344.8 697.0,345.6 699.4,339.4 704.1,335.5 708.8,337.0 711.1,342.5 713.4,348.8 715.8,354.2 715.8,360.5 714.2,363.6"/>
<path d="M715.8,354.2 719.7,351.1 723.6,345.6 722.8,337.8 721.2,330.0"/>
<path d="M828.8,290.9 830.3,296.9 831.6,303.9"/>
<path d="M894.1,250.0 896.4,255.5 901.1,257.8 904.2,262.5 908.1,261.7 912.8,259.4 917.5,256.2 922.2,253.1 926.9,250.0"/>
<path d="M909.7,263.3 907.3,265.6 909.4,267.5 905.8,269.5 907.3,271.9 903.4,273.4 905.0,275.8 901.1,275.8 902.2,278.4 898.0,278.1 899.1,280.9 894.8,280.5 895.9,283.1 891.7,282.0 892.8,285.2 889.4,283.6 890.2,287.5 887.0,287.2 887.8,290.3 884.4,290.9 885.0,294.1 881.6,294.5 881.9,297.2 878.4,297.7 878.1,300.3 875.6,300.8 876.1,303.9 874.1,306.2 875.0,310.2 873.0,312.5 873.4,316.4 872.2,318.8 875.3,322.7 873.0,328.9 876.9,332.0 880.0,337.5 883.1,339.8 889.4,336.7 890.9,333.6 888.6,330.9 885.0,331.2 889.4,332.8 891.2,337.5 887.8,340.6 883.1,343.0 880.0,346.1 876.9,343.8 873.8,345.3 872.2,342.2 870.6,345.3 872.2,348.4 867.5,351.6 861.2,353.9 855.0,357.8 848.8,361.7 844.8,364.8 840.2,371.1 838.6,375.0"/>
<path d="M904.2,262.5 909.7,263.3"/>
<path d="M892.5,282.0 894.8,285.2 891.7,288.3 889.4,287.5"/>
<path d="M897.2,279.7 900.3,281.2 898.8,278.1"/>
<path d="M880.8,344.5 883.1,345.6 881.6,346.9 880.8,344.5"/>
<path d="M890.2,343.8 892.2,344.5 890.9,345.6 890.2,343.8"/>
<path d="M839.4,373.4 845.6,368.8 853.4,364.1 861.2,359.4 867.5,356.2 864.4,359.4 858.1,363.3 851.9,368.0 845.6,371.9 840.2,375.8 839.4,373.4"/>
<path d="M859.7,359.4 862.8,360.2 865.9,357.8"/>
<path d="M840.2,375.8 842.5,379.7 844.1,387.5 842.5,393.8 840.2,398.4 838.1,403.9 836.2,407.0"/>
<path d="M937.8,250.0 931.6,257.8 927.7,264.1 923.8,270.3 921.4,275.0 925.3,273.4 927.7,279.7 932.3,282.8 935.5,285.2 940.0,282.8"/>
<path d="M912.8,268.0 914.1,269.5 912.8,270.3 912.8,268.0"/>
<path d="M877.7,186.6 870.6,190.2 865.2,195.6 862.0,201.9 859.7,209.7 857.3,218.3 853.4,219.1 856.6,220.6 855.0,228.4 851.9,236.2 848.0,244.1 845.6,248.3 851.1,245.6 855.8,239.4 859.7,231.6 862.8,223.8 866.7,215.9 871.4,208.1 876.9,200.3 883.1,193.3 890.2,186.6"/>
<path d="M919.1,186.6 919.8,190.2 916.7,193.3 915.2,198.0 911.2,201.1 906.6,203.4 900.3,204.2 895.6,207.3 892.5,209.4 897.2,208.1 903.4,207.3 908.1,209.7 911.2,208.1 915.2,205.0 919.1,203.4 919.8,199.5 920.9,203.4 919.1,209.7 919.4,215.2 916.7,219.1 920.6,218.3 923.8,222.2 927.7,226.1 931.6,228.4 935.5,230.0 939.4,231.6 941.7,230.0 945.6,233.1 950.3,232.3 955.0,230.0 959.7,228.4 963.6,230.0 965.9,226.1 968.3,225.3 969.8,227.7 973.0,226.9 976.9,229.2 982.3,228.8 978.4,231.6 973.8,236.2 969.1,242.5 964.4,247.2 959.7,251.9 955.0,255.0 950.3,256.6 948.8,261.2 946.4,265.2 945.6,270.6 943.3,276.1 939.4,281.6"/>
<path d="M936.2,249.5 940.9,245.6 945.6,243.3 951.1,241.2 947.2,244.1 944.1,248.0 943.3,250.3 940.9,246.4 937.8,248.0 933.9,248.8 933.1,245.6 935.5,240.9 937.8,237.0 934.7,237.8 933.1,237.0 930.0,242.5 926.9,248.8 926.9,250.0"/>
<path d="M931.6,215.2 933.1,219.8 937.8,222.2 942.5,220.9 948.8,219.1 953.4,216.7 958.1,215.2 961.2,214.4 959.7,219.1 957.3,224.5 955.0,226.9 950.3,226.1 945.6,225.3 940.9,226.1 936.2,225.3 932.3,223.0 930.8,219.1 931.6,215.2"/>
<path d="M973.0,226.9 970.6,222.2 969.8,215.9 971.4,208.1 973.0,200.3 974.5,197.2 978.4,197.5 980.0,201.9 980.8,208.9 983.9,208.1 986.2,209.7 985.5,215.9 984.7,221.4 981.6,223.8 978.4,226.9 976.9,229.2"/>
<path d="M980.8,208.9 979.2,213.6 980.8,217.5 978.4,221.4 980.0,224.5"/>
<path d="M957.3,190.9 959.7,191.2 958.4,194.8 956.9,199.5 955.8,201.1 955.0,198.0 956.2,194.1 957.3,190.9"/>
<path d="M745.0,528.3 748.1,525.9 748.9,528.3"/>
<path d="M796.1,526.9 797.3,524.4 799.7,518.1 804.4,512.7 809.8,511.1 813.8,510.3 813.0,505.6 816.1,500.9 820.0,496.2 823.1,492.3 827.8,490.0 832.5,491.6 834.8,486.9 838.8,483.8 842.7,479.1 845.0,475.9 844.2,471.2 841.9,466.6 839.5,462.7 836.4,458.8 833.3,453.3 830.9,448.6"/>
<path d="M821.6,461.9 827.8,463.4 824.7,468.1 832.5,466.6 837.2,463.4 839.5,468.1 835.6,471.2 838.8,474.4"/>
<path d="M820.8,477.5 827.8,476.7 829.4,480.6 832.5,477.5 835.6,482.2"/>
<path d="M822.3,484.5 827.8,486.1 830.9,489.2 833.3,490.0"/>
<path d="M818.4,493.1 820.0,495.5"/>
<path d="M813.0,505.6 813.8,508.8"/>
<path d="M796.4,530.0 792.5,533.9 788.6,537.0 784.7,541.7 780.0,544.8 776.9,545.6 776.1,549.5 780.0,547.2 775.3,554.2 773.0,560.5 771.4,567.5 770.3,575.3 770.6,581.2 772.2,587.8 776.1,595.6 781.6,604.2 787.8,615.2 792.5,623.8 798.8,634.7 805.0,644.1 808.9,653.4 810.0,662.8 810.5,672.2 808.9,681.6 805.0,690.0"/>
<path d="M787.8,615.2 790.2,615.9 793.3,620.6 793.3,625.3 790.9,622.2 788.6,618.3 787.8,615.2"/>
<path d="M769.8,567.5 769.1,575.3 770.6,576.9"/>
<path d="M680.0,600.3 684.7,598.8 692.5,598.4 700.3,601.1 706.6,606.6 709.7,610.5 714.4,611.2 719.8,608.1 725.3,602.7 731.6,600.3 737.0,602.7 742.5,608.1 748.8,613.6 754.2,616.7 757.3,622.2 758.1,630.0 757.3,637.8 759.7,644.1 763.6,648.8 767.5,653.4 771.4,659.7 775.3,663.6 780.0,667.5 783.1,672.2 789.4,673.8 793.3,678.4 795.6,684.7 800.3,685.5 806.6,682.3 808.9,681.6"/>
<path d="M709.7,610.5 715.2,612.0 719.8,608.1"/>
<path d="M758.9,636.2 763.6,635.9 765.2,639.4 762.8,643.3 760.5,640.9 758.9,636.2"/>
<path d="M771.4,655.0 774.5,654.2 775.3,659.7 773.8,663.6 772.2,659.7 771.4,655.0"/>
<path d="M790.2,651.1 794.1,645.6 798.0,648.0 797.2,655.0 792.5,653.4 790.2,651.1"/>
<path d="M825.0,667.5 825.9,668.4 825.0,669.1 825.0,667.5"/>
<path d="M540.0,643.3 546.2,637.8 552.5,632.3 558.8,627.7 565.0,624.5 571.2,622.2 579.1,621.9 586.9,623.8 593.1,625.3 599.4,624.5 604.1,625.3 607.2,622.2 611.9,625.3 615.0,629.2 618.9,631.6 621.2,633.1 625.2,628.4 629.1,627.7 630.6,630.8 633.8,625.3 636.9,623.8 640.0,625.3 646.2,627.7 650.2,628.4 649.4,630.8 645.5,633.1 644.7,630.0 640.0,626.9 637.7,622.2 640.0,619.1 643.1,614.4 645.5,611.2 643.1,609.7 640.0,608.1 638.4,609.7 640.0,611.2 643.1,606.6 649.4,604.2 655.6,604.2 658.8,603.4 662.7,602.7 663.4,598.0 665.8,597.2 667.3,601.9 669.7,605.0 674.4,601.9 677.5,599.5 680.6,598.8 685.3,599.5 690.0,598.8 694.7,598.8 700.0,601.1"/>
<path d="M622.8,609.7 625.2,607.3 629.8,606.6 633.8,608.9 634.5,612.0 630.6,613.6 625.9,612.8 622.8,609.7"/>
<path d="M549.4,624.5 552.5,625.3 555.6,622.2 554.8,626.9 551.7,629.2 550.2,627.7 549.4,624.5"/>
<path d="M568.1,619.1 569.7,618.3 570.0,620.6 568.4,621.4 568.1,619.1"/>
<path d="M576.7,617.5 578.3,619.8 576.7,620.6 576.7,617.5"/>
<path d="M586.1,618.3 588.4,619.1 586.9,620.3 586.1,618.3"/>
<path d="M590.8,620.6 593.1,621.4 591.6,623.0 590.8,620.6"/>
<path d="M597.8,622.2 600.9,619.8 605.6,620.6 604.8,624.5 600.9,623.8 597.8,622.2"/>
<path d="M651.7,612.0 652.5,615.2 650.9,618.3"/>
<path d="M640.8,614.4 643.1,611.2 644.7,613.6 641.6,617.5 639.2,619.8"/>
<path d="M515.6,545.5 518.8,543.1 521.1,542.3 521.9,545.5 519.5,546.2"/>
<path d="M520.3,650.0 525.0,647.0 531.2,645.5 537.5,643.1 543.8,639.2 548.4,634.5 553.1,630.6 557.8,627.5 560.0,626.7"/>
<path d="M550.0,624.4 553.9,622.8 555.5,625.9 552.3,629.1 550.8,626.7 550.0,624.4"/>
<path d="M522.7,644.7 526.6,643.9 528.1,646.2 530.5,644.7"/>
<path d="M520.3,653.9 518.8,655.5 514.8,661.7 511.7,668.8 510.2,676.6 511.7,684.4 514.1,692.2 515.3,697.7 514.8,703.1 512.5,709.4 509.4,716.4"/>
<path d="M510.2,676.6 508.6,678.1 509.4,684.4 511.7,692.2 513.3,697.7"/>
<path d="M504.7,671.9 507.0,669.5 509.4,671.1 507.8,672.7 504.7,671.9"/>
<path d="M509.4,660.2 512.5,662.5 511.7,665.6"/>
<path d="M514.8,654.7 518.0,656.2 516.4,659.4"/>
<path d="M504.7,709.4 507.8,707.8 510.9,708.6 509.4,712.5 506.2,715.6 504.7,712.5 504.7,709.4"/>
<path d="M826.0,648.8 830.6,650.6 835.3,647.8 840.8,646.0 844.5,641.3 849.2,639.5 853.8,641.3 857.5,643.2 861.2,644.1 861.6,649.7 859.4,653.4 860.3,658.0 856.6,656.2 858.5,650.6 855.7,646.0 852.0,643.2 847.3,642.3 845.5,646.0 839.9,648.8 834.3,650.6 830.6,651.5 826.0,648.8"/>
<path d="M846.4,672.9 849.2,674.7 852.0,679.4 855.7,684.9 860.3,690.5 863.1,695.2 863.1,699.8 860.3,701.6 857.5,697.9 854.7,693.3 851.0,689.6 847.3,686.8 843.6,685.9 846.4,682.2 847.3,677.5 846.4,672.9"/>
<path d="M855.7,687.7 858.5,694.2 861.2,698.9"/>
<path d="M848.2,661.8 852.0,664.5 852.9,668.2 850.1,669.2"/>
<path d="M858.5,674.7 862.2,672.9 864.9,671.6 863.1,674.2 859.4,675.7 858.5,674.7"/>
<path d="M868.7,667.3 867.7,663.6 870.5,661.8 876.1,664.5 880.7,667.3 882.6,672.0 883.5,676.6 880.7,674.7 879.8,670.1 875.2,666.4 870.5,664.5"/>
<path d="M890.9,674.2 894.6,676.6 898.3,680.3 901.1,683.1 897.4,683.1 893.7,678.5 890.9,675.7 890.9,674.2"/>
<path d="M871.4,675.7 872.4,680.3 876.1,684.0 881.6,688.7 887.2,693.3 892.8,696.1 901.1,697.9 894.6,697.9 891.9,698.9 886.3,694.2 879.8,689.6 874.2,684.9"/>
<path d="M902.1,691.4 905.8,694.2 908.6,698.9 911.3,701.6 915.0,704.4 911.3,702.6 907.6,700.7 904.8,697.0 902.1,691.4"/>
<path d="M915.0,679.0 916.2,680.9 915.0,683.1 914.1,680.9 915.0,679.0"/>
<path d="M909.5,689.0 911.7,689.8"/>
<path d="M923.4,703.5 928.0,702.6 932.7,703.5 933.6,707.2 930.8,711.9 928.0,715.6 930.8,709.1 928.0,706.3 924.3,706.3 923.4,703.5"/>
<path d="M947.5,705.0 954.0,704.4 954.0,705.9 947.5,706.3 947.5,705.0"/>
<path d="M931.7,695.2 934.5,695.7"/>
<path d="M937.3,703.9 940.1,703.1"/>
<path d="M963.3,714.6 966.1,710.9 969.8,708.1 974.4,709.1 980.0,710.0 980.9,713.7 978.1,712.8 972.6,710.9 967.9,711.9 965.2,715.6"/>
<path d="M897.4,705.4 896.9,709.1"/>
<path d="M896.5,710.9 896.5,713.7"/>
<path d="M824.7,667.9 826.0,669.0 824.9,669.7 824.7,667.9"/>
<path d="M835.3,636.3 837.1,637.6"/>
<path d="M839.9,637.6 841.8,638.6"/>
<path d="M750.0,341.6 751.6,336.1 756.2,331.4 762.5,327.5 770.3,324.4 778.1,322.0 782.8,322.8 785.2,318.9 789.8,316.6 793.8,318.1 796.9,321.2 796.9,326.7 792.2,331.4 787.5,333.8 781.2,335.3 773.4,334.5 767.2,336.9 760.9,340.0 754.7,343.1 750.0,341.6"/>
<path d="M789.8,316.6 793.8,312.7 797.7,308.8 800.0,304.1 803.9,298.6 807.8,295.5"/>
<path d="M785.2,318.9 787.5,316.6 792.2,313.4 795.3,310.3"/>
<path d="M760.2,340.8 761.7,346.2 764.4,347.8"/>
<path d="M806.4,414.4 807.1,417.1 805.4,419.5 804.0,421.9 804.4,425.3 806.4,424.6 808.5,425.3 810.5,426.7 813.2,426.7 816.0,426.0 818.7,427.4 820.1,428.7"/>
<path d="M819.4,399.7 817.3,400.4 815.3,402.1 813.2,404.8 811.2,406.9 812.6,408.9 813.6,411.7 813.9,415.1 815.3,418.5 816.0,421.2 817.3,423.3 818.7,425.3 820.1,428.7 821.4,430.8 822.1,432.8 821.4,432.8 822.1,435.6 822.8,439.0 822.1,439.0 823.5,441.0 824.2,443.8 822.8,445.2 825.5,446.5 824.2,447.9 825.5,449.9 825.5,448.6 829.3,447.9 831.0,450.6 832.4,453.4"/>
<path d="M817.3,404.1 816.7,407.6 817.3,411.0 818.0,413.7 819.4,416.4 822.1,416.8 820.1,417.8 819.4,419.9 821.4,421.9 823.5,423.3 824.2,421.2 825.5,421.9 826.2,424.6 826.9,426.7 825.5,428.1 824.2,426.7"/>
<path d="M812.6,420.5 814.6,422.6 816.7,424.6 818.7,427.4"/>
<path d="M811.2,430.5 813.2,432.2 816.0,434.2 818.7,435.9 821.4,437.6 822.8,439.0"/>
<path d="M815.3,439.7 817.3,441.7 820.1,443.8 822.8,445.2"/>
<path d="M813.6,444.8 816.0,445.2 818.7,446.5 821.4,448.6 823.5,450.6 825.5,449.9"/>
<path d="M819.4,399.7 820.8,397.3 820.1,394.6 822.8,392.2 825.2,392.5 823.8,395.3 824.2,398.0 826.2,400.7 828.3,402.1 831.0,407.6 834.4,410.3 836.5,413.7 837.2,417.1 836.5,423.3 834.4,427.4 833.1,432.8 832.4,436.9 831.4,441.7 830.3,443.8 829.0,442.4 828.3,438.3 829.0,434.2 830.3,429.4 831.0,427.4 826.9,426.7"/>
<path d="M825.2,392.5 828.3,389.1 832.7,385.0"/>
<path d="M828.3,402.1 833.7,402.1 835.1,404.8 836.5,406.9 837.8,404.1 838.9,399.7 840.9,396.6 842.6,393.2 844.0,388.4 843.0,385.0"/>
<path d="M181.1,211.2 183.4,213.6 181.9,216.7 184.2,219.1 182.7,222.2 185.0,224.5"/>
<path d="M185.0,217.5 188.1,220.6 186.6,224.5 189.7,226.9 188.1,231.6 191.2,233.9 188.9,237.0 191.2,240.2"/>
<path d="M181.1,231.6 184.2,236.2 186.6,241.7 183.4,245.6"/>
<path d="M188.9,222.2 190.5,226.9 192.0,231.6 190.5,235.5"/>
<path d="M175.6,197.2 178.8,201.9 177.2,205.8 180.3,208.9"/>
<path d="M149.1,192.5 152.2,196.4 150.9,199.5 155.3,201.9 156.9,205.8"/>
<path d="M536.1,248.8 539.2,248.0 540.8,251.1 538.4,252.7 540.0,255.8 543.1,253.4 545.5,255.0 547.0,251.1 544.7,248.0 547.8,247.2 549.4,250.3"/>
</g>
</g>
<rect x="115.50" y="186.50" width="871.25" height="529.75" fill="none" stroke="#111" stroke-width="1.3"/>
<g stroke="#222" stroke-width="1.25">
<line x1="98.5" x2="115.50" y1="273.00" y2="273.00"/>
<line x1="98.5" x2="115.50" y1="372.40" y2="372.40"/>
<line x1="98.5" x2="115.50" y1="470.80" y2="470.80"/>
<line x1="98.5" x2="115.50" y1="569.70" y2="569.70"/>
<line x1="98.5" x2="115.50" y1="669.60" y2="669.60"/>
<line x1="986.75" x2="1003.75" y1="234.00" y2="234.00"/>
<line x1="986.75" x2="1003.75" y1="336.50" y2="336.50"/>
<line x1="986.75" x2="1003.75" y1="438.00" y2="438.00"/>
<line x1="986.75" x2="1003.75" y1="539.00" y2="539.00"/>
<line x1="986.75" x2="1003.75" y1="640.00" y2="640.00"/>
<line x1="287.40" x2="287.40" y1="716.25" y2="733"/>
<line x1="465.00" x2="465.00" y1="716.25" y2="733"/>
<line x1="641.20" x2="641.20" y1="716.25" y2="733"/>
<line x1="822.20" x2="822.20" y1="716.25" y2="733"/>
<line x1="235.10" x2="235.10" y1="169" y2="186.50"/>
<line x1="417.80" x2="417.80" y1="169" y2="186.50"/>
<line x1="594.60" x2="594.60" y1="169" y2="186.50"/>
<line x1="778.50" x2="778.50" y1="169" y2="186.50"/>
<line x1="977.50" x2="977.50" y1="169" y2="186.50"/>
</g>
<g font-size="28.5">
<text x="80" y="282.9" text-anchor="end" textLength="60.3" lengthAdjust="spacingAndGlyphs">45°N</text>
<text x="80" y="382.3" text-anchor="end" textLength="60.3" lengthAdjust="spacingAndGlyphs">40°N</text>
<text x="80" y="480.7" text-anchor="end" textLength="60.3" lengthAdjust="spacingAndGlyphs">35°N</text>
<text x="80" y="579.6" text-anchor="end" textLength="60.3" lengthAdjust="spacingAndGlyphs">30°N</text>
<text x="80" y="679.5" text-anchor="end" textLength="60.3" lengthAdjust="spacingAndGlyphs">25°N</text>
<text x="286.2" y="763" text-anchor="middle" textLength="82.0" lengthAdjust="spacingAndGlyphs">110°W</text>
<text x="463.8" y="763" text-anchor="middle" textLength="82.0" lengthAdjust="spacingAndGlyphs">100°W</text>
<text x="641.7" y="763" text-anchor="middle" textLength="67.6" lengthAdjust="spacingAndGlyphs">90°W</text>
<text x="822.7" y="763" text-anchor="middle" textLength="67.6" lengthAdjust="spacingAndGlyphs">80°W</text>
</g>
<text x="551" y="141" font-size="36" text-anchor="middle" textLength="589.5" lengthAdjust="spacingAndGlyphs">NAAPS 20250817 Daily AOD Forecast</text>
<rect x="195.20" y="799.80" width="32.65" height="43.20" fill="#ffffff"/>
<rect x="227.55" y="799.80" width="32.65" height="43.20" fill="#e0f3fc"/>
<rect x="259.91" y="799.80" width="32.65" height="43.20" fill="#bee5f8"/>
<rect x="292.26" y="799.80" width="32.65" height="43.20" fill="#9dd8f6"/>
<rect x="324.62" y="799.80" width="32.65" height="43.20" fill="#82bfe6"/>
<rect x="356.97" y="799.80" width="32.65" height="43.20" fill="#68a8dc"/>
<rect x="389.33" y="799.80" width="32.65" height="43.20" fill="#4a8bca"/>
<rect x="421.68" y="799.80" width="32.65" height="43.20" fill="#4a9b9e"/>
<rect x="454.04" y="799.80" width="32.65" height="43.20" fill="#4aa672"/>
<rect x="486.39" y="799.80" width="32.65" height="43.20" fill="#4ab24a"/>
<rect x="518.75" y="799.80" width="32.65" height="43.20" fill="#82c44d"/>
<rect x="551.10" y="799.80" width="32.65" height="43.20" fill="#c2d957"/>
<rect x="583.45" y="799.80" width="32.65" height="43.20" fill="#f8e85c"/>
<rect x="615.81" y="799.80" width="32.65" height="43.20" fill="#f8c04c"/>
<rect x="648.16" y="799.80" width="32.65" height="43.20" fill="#f79a3e"/>
<rect x="680.52" y="799.80" width="32.65" height="43.20" fill="#f46d2b"/>
<rect x="712.87" y="799.80" width="32.65" height="43.20" fill="#ec552c"/>
<rect x="745.23" y="799.80" width="32.65" height="43.20" fill="#e03e2c"/>
<rect x="777.58" y="799.80" width="32.65" height="43.20" fill="#d4212a"/>
<rect x="809.94" y="799.80" width="32.65" height="43.20" fill="#bd1c26"/>
<rect x="842.29" y="799.80" width="32.65" height="43.20" fill="#a81a22"/>
<rect x="874.65" y="799.80" width="32.35" height="43.20" fill="#8e141a"/>
<g stroke="#000" stroke-width="0.7">
<line x1="227.55" x2="227.55" y1="799.80" y2="843.00"/>
<line x1="259.91" x2="259.91" y1="799.80" y2="843.00"/>
<line x1="292.26" x2="292.26" y1="799.80" y2="843.00"/>
<line x1="324.62" x2="324.62" y1="799.80" y2="843.00"/>
<line x1="356.97" x2="356.97" y1="799.80" y2="843.00"/>
<line x1="389.33" x2="389.33" y1="799.80" y2="843.00"/>
<line x1="421.68" x2="421.68" y1="799.80" y2="843.00"/>
<line x1="454.04" x2="454.04" y1="799.80" y2="843.00"/>
<line x1="486.39" x2="486.39" y1="799.80" y2="843.00"/>
<line x1="518.75" x2="518.75" y1="799.80" y2="843.00"/>
<line x1="551.10" x2="551.10" y1="799.80" y2="843.00"/>
<line x1="583.45" x2="583.45" y1="799.80" y2="843.00"/>
<line x1="615.81" x2="615.81" y1="799.80" y2="843.00"/>
<line x1="648.16" x2="648.16" y1="799.80" y2="843.00"/>
<line x1="680.52" x2="680.52" y1="799.80" y2="843.00"/>
<line x1="712.87" x2="712.87" y1="799.80" y2="843.00"/>
<line x1="745.23" x2="745.23" y1="799.80" y2="843.00"/>
<line x1="777.58" x2="777.58" y1="799.80" y2="843.00"/>
<line x1="809.94" x2="809.94" y1="799.80" y2="843.00"/>
<line x1="842.29" x2="842.29" y1="799.80" y2="843.00"/>
<line x1="874.65" x2="874.65" y1="799.80" y2="843.00"/>
</g>
<rect x="195.20" y="799.80" width="711.80" height="43.20" fill="none" stroke="#666" stroke-width="1"/>
<g font-size="19" text-anchor="middle">
<text x="227.6" y="870">0</text>
<text x="259.9" y="870">0.2</text>
<text x="292.3" y="870">0.4</text>
<text x="324.6" y="870">0.6</text>
<text x="357.0" y="870">0.8</text>
<text x="389.3" y="870">1</text>
<text x="421.7" y="870">1.2</text>
<text x="454.0" y="870">1.4</text>
<text x="486.4" y="870">1.6</text>
<text x="518.7" y="870">1.8</text>
<text x="551.1" y="870">2</text>
<text x="583.5" y="870">2.2</text>
<text x="615.8" y="870">2.4</text>
<text x="648.2" y="870">2.6</text>
<text x="680.5" y="870">2.8</text>
<text x="712.9" y="870">3</text>
<text x="745.2" y="870">3.2</text>
<text x="777.6" y="870">3.4</text>
<text x="809.9" y="870">3.6</text>
<text x="842.3" y="870">3.8</text>
<text x="874.6" y="870">4</text>
</g>
</svg></body></html>
